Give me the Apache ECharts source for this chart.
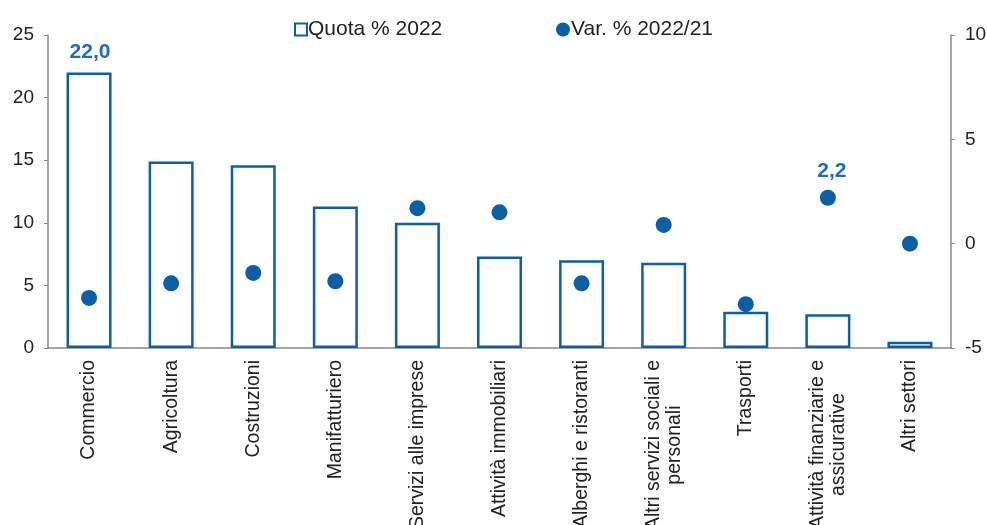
<!DOCTYPE html>
<html><head><meta charset="utf-8">
<script src="https://cdn.jsdelivr.net/npm/echarts@6/dist/echarts.min.js"></script>
<style>html,body{margin:0;padding:0;background:#fff}#c{width:987px;height:525px}</style>
</head><body><div id="c"></div>
<script>
const categories = ['Commercio','Agricoltura','Costruzioni','Manifatturiero','Servizi alle imprese','Attività immobiliari','Alberghi e ristoranti','Altri servizi sociali e\npersonali','Trasporti','Attività finanziarie e\nassicurative','Altri settori'];
const quota2022 = [22.0, 14.9, 14.6, 11.3, 10.0, 7.3, 7.0, 6.8, 2.9, 2.7, 0.5];
const var2022_21 = [-2.6, -1.9, -1.4, -1.8, 1.7, 1.5, -1.9, 0.9, -2.9, 2.2, 0.0];
const leftTicks = [0, 5, 10, 15, 20, 25];
const rightTicks = [-5, 0, 5, 10];
const labelQuotaIdx = 0;
const labelVarIdx = 9;

const blue = '#0b5fa5';
const textCol = '#222';
const fmt = v => v.toFixed(1).replace('.', ',');

const chart = echarts.init(document.getElementById('c'));
chart.setOption({
  animation: false,
  textStyle: { fontFamily: 'Liberation Sans, Arial, sans-serif' },
  legend: [
    { left: 289, top: 14, itemWidth: 12, itemHeight: 12, textStyle: { fontSize: 21, color: textCol, padding: [0,0,0,-4] },
      data: [{ name: 'Quota % 2022', icon: 'rect', itemStyle: { color: '#fff', borderColor: blue, borderWidth: 2 } }] },
    { left: 551, top: 14, itemWidth: 14, itemHeight: 14, textStyle: { fontSize: 21, color: textCol, padding: [0,0,0,-4] },
      data: [{ name: 'Var. % 2022/21', icon: 'circle', itemStyle: { color: blue, opacity: 1 } }] }
  ],
  grid: { left: 48, right: 36, top: 35, bottom: 177, containLabel: false, outerBoundsMode: 'none' },
  xAxis: {
    type: 'category', data: categories,
    axisLine: { lineStyle: { color: '#888', width: 1.5 } },
    axisTick: { show: false },
    axisLabel: { rotate: 90, color: textCol, margin: 12, interval: 0,
      formatter: v => v.split('\n').map(s => '{c|' + s + '}').join('\n'),
      rich: { c: { fontSize: 19.5, lineHeight: 21, align: 'center', color: textCol } } }
  },
  yAxis: [
    { type: 'value', min: 0, max: 25, interval: 5, position: 'left',
      axisLine: { show: true, lineStyle: { color: '#888', width: 1.5 } },
      axisTick: { show: true, inside: false, length: 4, lineStyle: { color: '#888' } },
      splitLine: { show: false },
      axisLabel: { fontSize: 19, color: textCol, margin: 14, formatter: v => leftTicks.includes(v) ? String(v) : '' } },
    { type: 'value', min: -5, max: 10, interval: 5, position: 'right',
      axisLine: { show: true, lineStyle: { color: '#888', width: 1.5 } },
      axisTick: { show: true, inside: false, length: 4, lineStyle: { color: '#888' } },
      splitLine: { show: false },
      axisLabel: { fontSize: 19, color: textCol, margin: 14, formatter: v => rightTicks.includes(v) ? String(v) : '' } }
  ],
  series: [
    { name: 'Quota % 2022', type: 'bar', yAxisIndex: 0, barWidth: 45,
      itemStyle: { color: '#fff', borderColor: blue, borderWidth: 2.5 },
      data: quota2022.map((v, i) => i === labelQuotaIdx ? { value: v, label: { show: true, position: 'top', distance: 10, offset: [1, 0], formatter: p => fmt(p.value), fontSize: 21, fontWeight: 'bold', color: '#1d6fb5' } } : v)
    },
    { name: 'Var. % 2022/21', type: 'scatter', yAxisIndex: 1, symbol: 'circle', symbolSize: 16,
      itemStyle: { color: blue, opacity: 1 },
      data: var2022_21.map((v, i) => i === labelVarIdx ? { value: v, label: { show: true, position: 'top', distance: 8, offset: [4, 0], formatter: p => fmt(p.value), fontSize: 21, fontWeight: 'bold', color: '#1d6fb5' } } : v)
    }
  ]
});
</script></body></html>
